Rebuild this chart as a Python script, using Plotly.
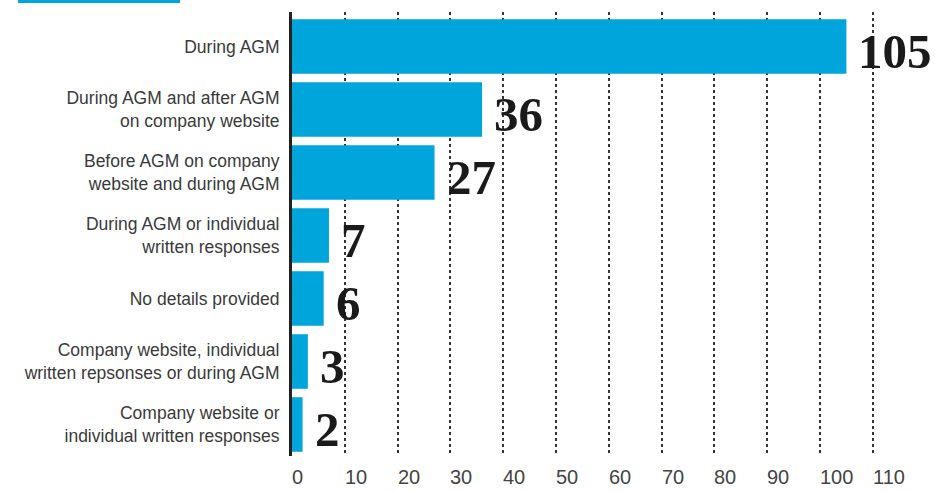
import plotly.graph_objects as go

categories = [
    "During AGM",
    "During AGM and after AGM<br>on company website",
    "Before AGM on company<br>website and during AGM",
    "During AGM or individual<br>written responses",
    "No details provided",
    "Company website, individual<br>written repsonses or during AGM",
    "Company website or<br>individual written responses",
]
values = [105, 36, 27, 7, 6, 3, 2]
x_ticks = [0, 10, 20, 30, 40, 50, 60, 70, 80, 90, 100, 110]
x_tick_labels = [str(t) for t in x_ticks]

BLUE = "#00A5DB"
W, H = 935, 491
ML, MR, MT, MB = 292, 0, 12, 34.5
px_per_unit = 5.28
x_max = (W - ML - MR) / px_per_unit

fig = go.Figure()
fig.add_trace(go.Bar(
    x=values, y=categories, orientation="h",
    marker=dict(color=BLUE, line=dict(width=0)),
    hoverinfo="skip",
))

# value labels
for c, v in zip(categories, values):
    fig.add_annotation(
        x=v, y=c, xref="x", yref="y", text=str(v), showarrow=False,
        xanchor="left", yanchor="middle", xshift=10, yshift=-5,
        font=dict(family="Liberation Serif", size=49, color="#1a1a1a", weight="bold"),
    )

# x tick labels, left aligned at gridlines
for t, lab in zip(x_ticks, x_tick_labels):
    fig.add_annotation(
        x=t, y=0, xref="x", yref="paper", text=lab, showarrow=False,
        xanchor="left", yanchor="top", xshift=-2, yshift=-8,
        font=dict(family="Liberation Sans", size=20, color="#444444"),
    )

# decorative header line
plot_w = W - ML - MR
plot_h = H - MT - MB
fig.add_shape(
    type="rect", xref="paper", yref="paper",
    x0=(18 - ML) / plot_w, x1=(180 - ML) / plot_w,
    y0=1 + (MT - 3) / plot_h, y1=1 + MT / plot_h,
    fillcolor=BLUE, line=dict(width=0), layer="above",
)

fig.update_layout(
    width=W, height=H,
    margin=dict(l=ML, r=MR, t=MT, b=MB, pad=0),
    paper_bgcolor="white", plot_bgcolor="white",
    showlegend=False, bargap=0.134,
    xaxis=dict(
        range=[0, x_max], tickvals=x_ticks, showticklabels=False,
        showgrid=True, gridcolor="#333333", gridwidth=1.5, griddash="dot",
        zeroline=False, showline=False, ticks="",
    ),
    yaxis=dict(
        autorange="reversed", showgrid=False, zeroline=False,
        showline=True, linecolor="#222222", linewidth=3, ticks="",
        ticklabelstandoff=6,
        tickfont=dict(family="Liberation Sans", size=17.5, color="#3a3a3a"),
    ),
)

fig.write_html("out.html")
